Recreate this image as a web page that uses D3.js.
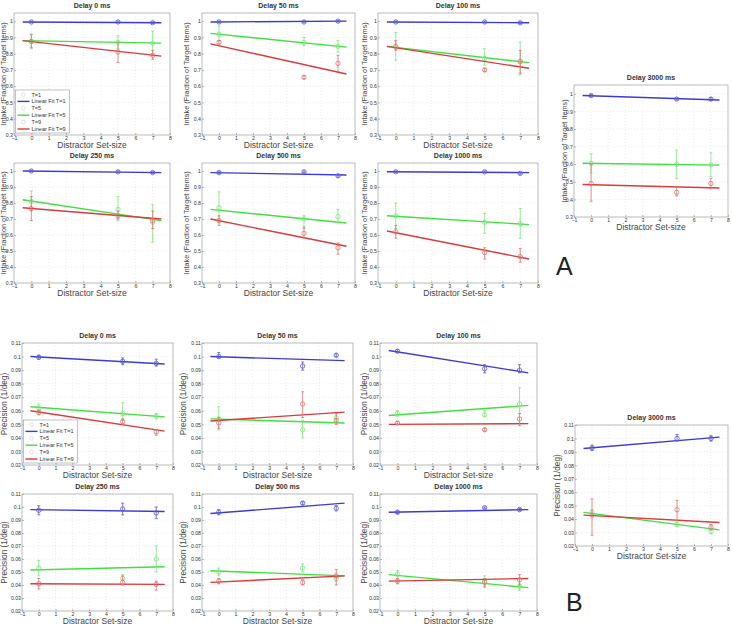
<!DOCTYPE html>
<html><head><meta charset="utf-8">
<script src="https://cdn.jsdelivr.net/npm/d3@7"></script>
<style>body{margin:0;background:#fff}svg{display:block}</style>
</head><body>
<svg id="c" width="732" height="626"></svg>
<script>
// ---------- DATA ----------
const delays = [0, 50, 100, 250, 500, 1000, 3000];
const setSizes = [0, 5, 7];
const fitX = [-0.5, 7.5];
const xTicks = [-1, 0, 1, 2, 3, 4, 5, 6, 7, 8];
const intakeTicks = [0.3, 0.4, 0.5, 0.6, 0.7, 0.8, 0.9, 1];
const precTicks = [0.02, 0.03, 0.04, 0.05, 0.06, 0.07, 0.08, 0.09, 0.1, 0.11];
const legendLabels = ["T=1", "Linear Fit T=1", "T=5", "Linear Fit T=5", "T=9", "Linear Fit T=9"];

// Intake (fraction of target items), one row per delay, values at set-size 0,5,7
const intakeT1Mean = [[0.995,0.995,0.99],[0.995,0.995,1.0],[0.995,0.995,0.99],[1.0,0.995,0.99],[0.99,0.995,0.97],[0.995,0.995,0.985],[0.99,0.97,0.97]];
const intakeT1Lo   = [[0.99,0.99,0.985],[0.99,0.99,0.995],[0.99,0.99,0.985],[0.995,0.99,0.985],[0.985,0.99,0.962],[0.99,0.99,0.98],[0.985,0.965,0.962]];
const intakeT1Hi   = [[1.0,1.0,0.995],[1.0,1.0,1.005],[1.0,1.0,0.995],[1.005,1.0,0.995],[0.995,1.0,0.978],[1.0,1.0,0.99],[0.995,0.975,0.978]];
const intakeT1Fit  = [[0.995,0.99],[0.995,1.0],[0.995,0.99],[1.0,0.99],[0.99,0.975],[0.995,0.99],[0.99,0.965]];

const intakeT5Mean = [[0.875,0.87,0.865],[0.92,0.87,0.845],[0.84,0.77,0.755],[0.81,0.76,0.68],[0.77,0.70,0.715],[0.72,0.68,0.67],[0.605,0.60,0.595]];
const intakeT5Lo   = [[0.835,0.83,0.79],[0.88,0.85,0.81],[0.76,0.73,0.67],[0.75,0.69,0.555],[0.68,0.64,0.68],[0.64,0.61,0.58],[0.55,0.52,0.53]];
const intakeT5Hi   = [[0.915,0.91,0.94],[0.97,0.90,0.88],[0.93,0.83,0.87],[0.875,0.84,0.79],[0.87,0.72,0.76],[0.80,0.735,0.765],[0.66,0.68,0.665]];
const intakeT5Fit  = [[0.88,0.865],[0.925,0.84],[0.845,0.745],[0.82,0.69],[0.76,0.675],[0.72,0.665],[0.605,0.595]];

const intakeT9Mean = [[0.875,0.81,0.79],[0.87,0.655,0.74],[0.845,0.70,0.75],[0.765,0.72,0.69],[0.69,0.61,0.52],[0.62,0.49,0.465],[0.49,0.44,0.49]];
const intakeT9Lo   = [[0.835,0.745,0.765],[0.86,0.645,0.69],[0.82,0.69,0.68],[0.69,0.70,0.64],[0.66,0.58,0.48],[0.58,0.45,0.43],[0.39,0.42,0.46]];
const intakeT9Hi   = [[0.92,0.87,0.82],[0.88,0.665,0.79],[0.88,0.71,0.82],[0.84,0.75,0.75],[0.72,0.65,0.55],[0.66,0.52,0.515],[0.60,0.47,0.52]];
const intakeT9Fit  = [[0.88,0.785],[0.86,0.675],[0.845,0.71],[0.77,0.70],[0.70,0.53],[0.625,0.45],[0.485,0.465]];

// Precision (1/deg)
const precT1Mean = [[0.0995,0.0965,0.095],[0.1,0.093,0.101],[0.104,0.091,0.09],[0.0975,0.0985,0.0955],[0.096,0.103,0.099],[0.096,0.0995,0.098],[0.093,0.1,0.1]];
const precT1Lo   = [[0.098,0.094,0.093],[0.099,0.09,0.1],[0.103,0.088,0.088],[0.094,0.094,0.091],[0.094,0.102,0.097],[0.095,0.099,0.097],[0.091,0.098,0.098]];
const precT1Hi   = [[0.101,0.099,0.098],[0.103,0.096,0.102],[0.105,0.094,0.094],[0.101,0.103,0.1],[0.098,0.104,0.101],[0.097,0.1,0.099],[0.095,0.103,0.102]];
const precT1Fit  = [[0.1,0.0945],[0.1,0.097],[0.1045,0.088],[0.098,0.0965],[0.095,0.103],[0.096,0.098],[0.0925,0.101]];

const precT5Mean = [[0.062,0.058,0.056],[0.054,0.046,0.055],[0.058,0.057,0.065],[0.053,0.045,0.06],[0.05,0.053,0.045],[0.048,0.043,0.039],[0.045,0.036,0.031]];
const precT5Lo   = [[0.06,0.053,0.054],[0.046,0.04,0.051],[0.056,0.056,0.058],[0.047,0.044,0.05],[0.047,0.05,0.043],[0.043,0.038,0.036],[0.043,0.035,0.029]];
const precT5Hi   = [[0.065,0.066,0.058],[0.063,0.053,0.059],[0.06,0.06,0.077],[0.059,0.048,0.07],[0.053,0.056,0.047],[0.051,0.047,0.041],[0.047,0.038,0.033]];
const precT5Fit  = [[0.063,0.0555],[0.054,0.051],[0.0565,0.064],[0.0515,0.054],[0.051,0.047],[0.048,0.038],[0.045,0.032]];

const precT9Mean = [[0.059,0.052,0.0445],[0.051,0.065,0.053],[0.051,0.046,0.054],[0.041,0.042,0.0405],[0.043,0.042,0.047],[0.043,0.042,0.044],[0.043,0.047,0.034]];
const precT9Lo   = [[0.057,0.05,0.042],[0.047,0.055,0.05],[0.050,0.045,0.049],[0.037,0.04,0.036],[0.041,0.040,0.040],[0.041,0.039,0.040],[0.028,0.039,0.032]];
const precT9Hi   = [[0.06,0.054,0.046],[0.055,0.074,0.058],[0.052,0.047,0.058],[0.045,0.047,0.043],[0.045,0.044,0.052],[0.045,0.045,0.048],[0.055,0.054,0.036]];
const precT9Fit  = [[0.06,0.045],[0.0525,0.059],[0.050,0.0505],[0.041,0.0405],[0.042,0.047],[0.043,0.045],[0.043,0.0375]];

// ---------- STYLE / LAYOUT ----------
const lineColors = ["#3b3bd2", "#3fe03f", "#d93a3a"];
const markColors = ["#5a5ad6", "#7ee67e", "#e07272"];
const FONT = "'Liberation Sans', Arial, sans-serif";

const measures = [
  { label: "Intake (Fraction of Target Items)", labelSize: 7.3, domain: [0.3, 1.05], ticks: intakeTicks, fmt: d => String(+d.toFixed(2)),
    series: [[intakeT1Mean,intakeT1Lo,intakeT1Hi,intakeT1Fit],[intakeT5Mean,intakeT5Lo,intakeT5Hi,intakeT5Fit],[intakeT9Mean,intakeT9Lo,intakeT9Hi,intakeT9Fit]],
    panels: [
      {d:0, x0:14,  x1:170, y0:13,  y1:135, lx:6.2},
      {d:1, x0:202, x1:355, y0:13,  y1:135, lx:189},
      {d:2, x0:378, x1:538, y0:13,  y1:135, lx:367},
      {d:3, x0:14,  x1:170, y0:163, y1:283, lx:6.2},
      {d:4, x0:202, x1:355, y0:163, y1:283, lx:189},
      {d:5, x0:378, x1:538, y0:163, y1:283, lx:367},
      {d:6, x0:574, x1:728, y0:85,  y1:217, lx:567}
    ]},
  { label: "Precision (1/deg)", labelSize: 8.3, domain: [0.02, 0.11], ticks: precTicks, fmt: d => String(+d.toFixed(3)),
    series: [[precT1Mean,precT1Lo,precT1Hi,precT1Fit],[precT5Mean,precT5Lo,precT5Hi,precT5Fit],[precT9Mean,precT9Lo,precT9Hi,precT9Fit]],
    panels: [
      {d:0, x0:22,  x1:173, y0:343, y1:465, lx:6.8},
      {d:1, x0:202, x1:353, y0:343, y1:465, lx:186},
      {d:2, x0:380, x1:537, y0:343, y1:465, lx:367},
      {d:3, x0:22,  x1:173, y0:494, y1:611, lx:6.8},
      {d:4, x0:202, x1:353, y0:494, y1:611, lx:186},
      {d:5, x0:380, x1:537, y0:494, y1:611, lx:367},
      {d:6, x0:575, x1:728, y0:425, y1:546, lx:560}
    ]}
];

const svg = d3.select("#c");

measures.forEach(m => {
  m.panels.forEach((p, pi) => {
    const x = d3.scaleLinear().domain([-1, 8]).range([p.x0, p.x1]);
    const y = d3.scaleLinear().domain(m.domain).range([p.y1, p.y0]);
    const g = svg.append("g");

    // grid
    g.append("g").selectAll("line").data(xTicks.slice(1, -1)).join("line")
      .attr("x1", d => x(d)).attr("x2", d => x(d)).attr("y1", p.y0).attr("y2", p.y1)
      .attr("stroke", "#e0e0e0").attr("stroke-width", 0.6).attr("stroke-dasharray", "1,2");
    g.append("g").selectAll("line").data(m.ticks.filter(t => y(t) > p.y0 + 1 && y(t) < p.y1 - 1)).join("line")
      .attr("x1", p.x0).attr("x2", p.x1).attr("y1", d => y(d)).attr("y2", d => y(d))
      .attr("stroke", "#e0e0e0").attr("stroke-width", 0.6).attr("stroke-dasharray", "1,2");

    // axes
    const ax = g.append("g").attr("transform", `translate(0,${p.y1})`)
      .call(d3.axisBottom(x).tickValues(xTicks).tickSize(-2).tickPadding(1.5).tickFormat(d3.format("d")));
    const ay = g.append("g").attr("transform", `translate(${p.x0},0)`)
      .call(d3.axisLeft(y).tickValues(m.ticks).tickSize(-2).tickPadding(1).tickFormat(m.fmt));
    [ax, ay].forEach(a => {
      a.select(".domain").remove();
      a.selectAll("line").attr("stroke", "#888").attr("stroke-width", 0.6);
      a.selectAll("text").attr("font-family", FONT).attr("font-size", 5.2).attr("fill", "#333");
    });
    g.append("rect").attr("x", p.x0).attr("y", p.y0).attr("width", p.x1 - p.x0).attr("height", p.y1 - p.y0)
      .attr("fill", "none").attr("stroke", "#aaa").attr("stroke-width", 0.8);

    // title & labels
    g.append("text").attr("x", (p.x0 + p.x1) / 2).attr("y", p.y0 - 5).attr("text-anchor", "middle")
      .attr("font-family", FONT).attr("font-size", 7).attr("font-weight", "bold").attr("fill", "#333")
      .text(`Delay ${delays[p.d]} ms`);
    g.append("text").attr("x", (p.x0 + p.x1) / 2).attr("y", p.y1 + 13).attr("text-anchor", "middle")
      .attr("font-family", FONT).attr("font-size", 8.5).attr("fill", "#444").text("Distractor Set-size");
    g.append("text").attr("transform", `translate(${p.lx},${(p.y0 + p.y1) / 2}) rotate(-90)`)
      .attr("text-anchor", "middle").attr("font-family", FONT).attr("font-size", m.labelSize)
      .attr("fill", "#444").text(m.label);

    // series
    m.series.forEach((s, si) => {
      const [mean, lo, hi, fit] = s.map(a => a[p.d]);
      g.append("line").attr("x1", x(fitX[0])).attr("x2", x(fitX[1])).attr("y1", y(fit[0])).attr("y2", y(fit[1]))
        .attr("stroke", lineColors[si]).attr("stroke-width", 1.4);
      const eb = g.append("g").attr("stroke", markColors[si]).attr("stroke-width", 0.8).attr("fill", "none");
      setSizes.forEach((ss, k) => {
        eb.append("line").attr("x1", x(ss)).attr("x2", x(ss)).attr("y1", y(lo[k])).attr("y2", y(hi[k]));
        eb.append("line").attr("x1", x(ss) - 1.5).attr("x2", x(ss) + 1.5).attr("y1", y(lo[k])).attr("y2", y(lo[k]));
        eb.append("line").attr("x1", x(ss) - 1.5).attr("x2", x(ss) + 1.5).attr("y1", y(hi[k])).attr("y2", y(hi[k]));
        eb.append("circle").attr("cx", x(ss)).attr("cy", y(mean[k])).attr("r", 2.2);
      });
    });

    // legend in first panel
    if (pi === 0) {
      const lgx = p.x0 + 1.5, lgh = 43, lgy = p.y1 - lgh - 2, lgw = 54;
      const lg = g.append("g");
      lg.append("rect").attr("x", lgx).attr("y", lgy).attr("width", lgw).attr("height", lgh)
        .attr("fill", "#fff").attr("stroke", "#999").attr("stroke-width", 0.6);
      legendLabels.forEach((lab, i) => {
        const yy = lgy + 4.5 + i * 6.9;
        const ci = Math.floor(i / 2);
        if (i % 2 === 0) {
          lg.append("circle").attr("cx", lgx + 8).attr("cy", yy).attr("r", 1.8)
            .attr("fill", "none").attr("stroke", "#ccc").attr("stroke-width", 0.6);
        } else {
          lg.append("line").attr("x1", lgx + 2).attr("x2", lgx + 14).attr("y1", yy).attr("y2", yy)
            .attr("stroke", lineColors[ci]).attr("stroke-width", 1.4);
        }
        lg.append("text").attr("x", lgx + 16).attr("y", yy + 2).attr("font-family", FONT)
          .attr("font-size", 5.5).attr("fill", "#333").text(lab);
      });
    }
  });
});

// panel letters
svg.append("text").attr("x", 556).attr("y", 275).attr("font-family", FONT).attr("font-size", 25).attr("fill", "#222").text("A");
svg.append("text").attr("x", 566).attr("y", 611).attr("font-family", FONT).attr("font-size", 25).attr("fill", "#222").text("B");
</script>
</body></html>
